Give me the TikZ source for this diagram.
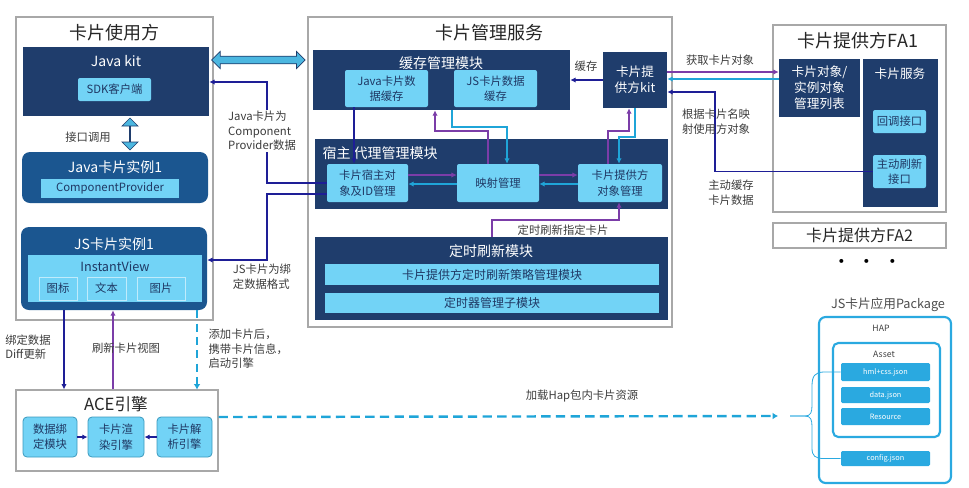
\documentclass[tikz,border=0pt]{standalone}
\usepackage{fontspec}
\setmainfont{Noto Sans CJK SC}
\usepackage{xcolor}
\usetikzlibrary{positioning}
\usetikzlibrary{fit}
\usetikzlibrary{shapes.arrows}
\usetikzlibrary{arrows.meta}

\definecolor{navy}{HTML}{1F3D6C}
\definecolor{instblue}{HTML}{1B5690}
\definecolor{sky}{HTML}{72D3F6}
\definecolor{skytext}{HTML}{1F3864}
\definecolor{purp}{HTML}{7B3DA8}
\definecolor{cyanl}{HTML}{1FA5D8}
\definecolor{deepblue}{HTML}{1E1E96}
\definecolor{framegray}{HTML}{A8A8A8}
\definecolor{pkgblue}{HTML}{2AA9E0}
\definecolor{lbltext}{HTML}{3C3C3C}

\tikzset{
	frame/.style={draw=framegray, line width=0.8pt, inner sep=0pt},
	navybox/.style={fill=navy, inner sep=0pt},
	instbox/.style={fill=instblue, rounded corners=6pt, inner sep=0pt},
	skybox/.style={fill=sky, inner sep=0pt, rounded corners=1.5pt},
	cellbox/.style={skybox, draw=white!55!sky, line width=0.6pt, rounded corners=0pt},
	acebox/.style={skybox, draw=cyanl!70!gray, line width=0.6pt, rounded corners=3pt},
	pkgitem/.style={fill=pkgblue, inner sep=0pt, rounded corners=1pt},
	pkgframe/.style={draw=pkgblue, line width=1.6pt, rounded corners=5pt, inner sep=0pt},
	skytxt/.style={inner sep=0pt, text=skytext, align=center, font=\fontsize{8.5}{11.5}\selectfont},
	navytxt/.style={inner sep=0pt, text=white, align=center, font=\fontsize{9.5}{12}\selectfont},
	pkgtxt/.style={inner sep=0pt, text=white, font=\fontsize{5.5}{6}\selectfont},
	ttl/.style={inner sep=1pt, text=black!85, font=\fontsize{13.5}{15}\selectfont},
	mtitle/.style={inner sep=1pt, text=white, font=\fontsize{10.5}{12}\selectfont},
	lbl/.style={inner sep=1pt, text=lbltext, align=left, font=\fontsize{8.5}{11}\selectfont},
	dblarrow/.style={double arrow, draw=navy, fill=cyanl!80!white, line width=0.5pt, inner xsep=0pt, inner ysep=2.6pt, minimum width=12pt, double arrow head extend=3.5pt},
	deep/.style={draw=deepblue, line width=1.3pt, -{Latex[length=4pt,width=4pt]}},
	pline/.style={draw=purp, line width=1.3pt, -{Latex[length=4pt,width=4pt]}},
	cline/.style={draw=cyanl, line width=1.3pt, -{Latex[length=4pt,width=4pt]}},
	cdash/.style={draw=cyanl, line width=1.8pt, dash pattern=on 7pt off 4pt, -{Latex[length=4pt,width=5pt]}},
}

\begin{document}
\begin{tikzpicture}[x=0.75pt, y=-0.75pt]
	\useasboundingbox (0,0) rectangle (969,487);
	
	% card user
	\node[frame, fit={(16,17) (213,320)}] (user) {};
	\node[ttl] (user-t) at (114,33) {卡片使用方};
	\node[navybox, fit={(23,47) (209,116)}] (javakit) {};
	\node[mtitle] (javakit-t) at (116,61) {Java kit};
	\node[skybox, fit={(78,78) (151,101)}, label={[skytxt]center:SDK客户端}] (sdk) {};
	\node[instbox, fit={(22,152) (208,203)}] (javainst) {};
	\node[mtitle] (javainst-t) at (115,167) {Java卡片实例1};
	\node[skybox, rounded corners=0pt, fit={(41,179) (179,198)}, label={[skytxt]center:ComponentProvider}] (compprov) {};
	\node[instbox, fit={(21,227) (207,310)}] (jsinst) {};
	\node[mtitle] (jsinst-t) at (114,244) {JS卡片实例1};
	\node[skybox, rounded corners=0pt, fit={(28,255) (202,302)}] (instview) {};
	\node[inner sep=1pt, text=skytext, font=\fontsize{9.5}{11}\selectfont] (instview-t) at (115,267) {InstantView};
	\node[cellbox, fit={(39,277) (77,300)}, label={[skytxt]center:图标}] (icon) {};
	\node[cellbox, fit={(87,277) (126,300)}, label={[skytxt]center:文本}] (txt) {};
	\node[cellbox, fit={(137,277) (185,300)}, label={[skytxt]center:图片}] (pic) {};
	
	\path (javakit.south -| 130,0) -- (javainst.north -| 130,0) node[midway, dblarrow, shape border rotate=90, minimum height=24pt] (callarrow) {};
	\node[lbl] (call-l) at (88,137) {接口调用};
	
	% ACE engine
	\node[frame, fit={(16,390) (218,471)}] (ace) {};
	\node[ttl, font=\fontsize{12.5}{14}\selectfont] (ace-t) at (116,404) {ACE引擎};
	\node[acebox, fit={(23,417) (77,457)}, label={[skytxt]center:数据绑\\定模块}] (bind) {};
	\node[acebox, fit={(88,417) (144,457)}, label={[skytxt]center:卡片渲\\染引擎}] (render) {};
	\node[acebox, fit={(157,417) (212,457)}, label={[skytxt]center:卡片解\\析引擎}] (parse) {};
	\draw[deep] (bind) -- (render);
	\draw[deep] (parse) -- (render);
	
	% card management service
	\node[frame, fit={(308,17) (672,327)}] (mgmt) {};
	\node[ttl] (mgmt-t) at (489,33) {卡片管理服务};
	\node[navybox, fit={(313,50) (570,110)}] (cachemod) {};
	\node[mtitle] (cachemod-t) at (441,63) {缓存管理模块};
	\node[skybox, fit={(345,70) (428,107)}, label={[skytxt]center:Java卡片数\\据缓存}] (javacache) {};
	\node[skybox, fit={(454,70) (537,107)}, label={[skytxt]center:JS卡片数据\\缓存}] (jscache) {};
	\node[navybox, fit={(603,52) (667,108)}, label={[navytxt]center:卡片提\\供方kit}] (kit) {};
	\node[navybox, fit={(315,139) (668,209)}] (hostmod) {};
	\node[mtitle, anchor=west] (hostmod-t) at (321,153) {宿主 代理管理模块};
	\node[skybox, fit={(327,164) (408,202)}, label={[skytxt]center:卡片宿主对\\象及ID管理}] (hostobj) {};
	\node[skybox, fit={(457,164) (539,202)}, label={[skytxt]center:映射管理}] (mapping) {};
	\node[skybox, fit={(578,164) (662,202)}, label={[skytxt]center:卡片提供方\\对象管理}] (provobj) {};
	\node[navybox, fit={(315,237) (668,320)}] (timermod) {};
	\node[mtitle] (timermod-t) at (491,251) {定时刷新模块};
	\node[skybox, rounded corners=0pt, fit={(325,264) (659,285)}, label={[skytxt, font=\fontsize{9}{11}\selectfont]center:卡片提供方定时刷新策略管理模块}] (policy) {};
	\node[skybox, rounded corners=0pt, fit={(325,293) (659,313)}, label={[skytxt, font=\fontsize{9}{11}\selectfont]center:定时器管理子模块}] (timer) {};
	
	\path (javakit.east |- 0,60) -- (mgmt.west |- 0,60) node[midway, dblarrow, minimum height=70pt] (kitarrow) {};
	
	% inside management
	\draw[deep] (kit.west |- 0,80) -- (cachemod.east |- 0,80);
	\node[lbl] (cache-l) at (586,66) {缓存};
	\draw[deep] (javacache.south -| 354,0) -- (hostobj.north -| 354,0);
	\draw[pline] (mapping.north -| 488,0) -- (488,131) -- (435,131) -- (cachemod.south -| 435,0);
	\draw[cline] (cachemod.south -| 452,0) -- (452,127) -- (507,127) -- (mapping.north -| 507,0);
	\draw[pline] (provobj.north -| 608,0) -- (608,131) -- (629,131) -- (kit.south -| 629,0);
	\draw[cline] (kit.south -| 635,0) -- (635,137) -- (619,137) -- (provobj.north -| 619,0);
	\draw[pline] (hostobj.east |- 0,175) -- (mapping.west |- 0,175);
	\draw[cline] (mapping.west |- 0,184) -- (hostobj.east |- 0,184);
	\draw[pline] (mapping.east |- 0,175) -- (provobj.west |- 0,175);
	\draw[cline] (provobj.west |- 0,184) -- (mapping.east |- 0,184);
	\draw[pline] (timermod.north -| 492,0) -- (492,220) -- (619,220) -- (provobj.south -| 619,0);
	\node[lbl] (timer-l) at (563,230) {定时刷新指定卡片};
	
	% host module to user side
	\draw[deep] (hostobj.west |- 0,183) -- (267,183) -- (267,82) -- (javakit.east |- 0,82);
	\node[lbl, fill=white] (javadata-l) at (262,131) {Java卡片为\\Component\\Provider数据};
	\draw[deep] (hostobj.west |- 0,194) -- (267,194) -- (267,260) -- (jsinst.east |- 0,260);
	\node[lbl] (jsdata-l) at (262,277) {JS卡片为绑\\定数据格式};
	
	% JS instance and ACE
	\draw[deep] (jsinst.south -| 64,0) -- (ace.north -| 64,0);
	\node[lbl] (diff-l) at (28,347) {绑定数据\\Diff更新};
	\draw[pline] (ace.north -| 113,0) -- (jsinst.south -| 113,0);
	\node[lbl] (view-l) at (126,348) {刷新卡片视图};
	\draw[cdash, dash pattern=on 6pt off 4pt] (jsinst.south -| 197,0) -- (ace.north -| 197,0);
	\node[lbl, anchor=west] (start-l) at (207,349) {添加卡片后，\\携带卡片信息，\\启动引擎};
	
	% provider FA1
	\node[frame, fit={(773,25) (946,212)}] (fa1) {};
	\node[ttl] (fa1-t) at (858,41) {卡片提供方FA1};
	\node[navybox, fit={(779,59) (860,117)}, label={[navytxt]center:卡片对象/\\实例对象\\管理列表}] (objlist) {};
	\node[navybox, fit={(863,59) (938,207)}] (cardsvc) {};
	\node[mtitle, font=\fontsize{9.5}{11}\selectfont] (cardsvc-t) at (900,74) {卡片服务};
	\node[skybox, fit={(873,110) (926,133)}, label={[skytxt]center:回调接口}] (callback) {};
	\node[skybox, fit={(873,155) (926,188)}, label={[skytxt]center:主动刷新\\接口}] (refresh) {};
	\node[frame, fit={(773,223) (946,248)}] (fa2) {};
	\node[ttl, font=\fontsize{12}{14}\selectfont] (fa2-t) at (fa2) {卡片提供方FA2};
	\node[inner sep=0pt, font=\fontsize{14}{14}\selectfont] (more) at (867,264) {•\hspace{5pt}•\hspace{5pt}•};
	
	\draw[pline] (kit.east |- 0,72) -- (objlist.west |- 0,72);
	\node[lbl] (get-l) at (720,60) {获取卡片对象};
	\draw[cline] (objlist.west |- 0,79) -- (kit.east |- 0,79);
	\draw[deep] (refresh.west) -- (715,171.5) -- (715,92) -- (kit.east |- 0,92);
	\node[lbl] (map-l) at (716,122) {根据卡片名映\\射使用方对象};
	\node[lbl] (active-l) at (731,193) {主动缓存\\卡片数据};
	
	% JS package
	\node[inner sep=1pt, text=black!70, font=\fontsize{9.5}{11}\selectfont] (pkg-t) at (888,305) {JS卡片应用Package};
	\node[pkgframe, fit={(819,317) (951,483)}] (hap) {};
	\node[inner sep=1pt, text=black!75, font=\fontsize{6.5}{8}\selectfont] (hap-t) at (881,328) {HAP};
	\node[pkgframe, rounded corners=4pt, fit={(833,343) (940,437)}] (asset) {};
	\node[inner sep=1pt, text=black!75, font=\fontsize{6.5}{8}\selectfont] (asset-t) at (884,354) {Asset};
	\node[pkgitem, fit={(841,363) (930,381)}, label={[pkgtxt]center:hml+css.json}] (hml) {};
	\node[pkgitem, fit={(841,387) (930,403)}, label={[pkgtxt]center:data.json}] (datajson) {};
	\node[pkgitem, fit={(841,408) (930,425)}, label={[pkgtxt]center:Resource}] (res) {};
	\node[pkgitem, fit={(841,451) (930,466)}, label={[pkgtxt]center:config.json}] (config) {};
	
	\coordinate (bracetip) at (790,416);
	\coordinate (loadend) at (778,416);
	\draw[cdash] (ace.east |- 0,417) -- (loadend);
	\node[lbl] (load-l) at (582,396) {加载Hap包内卡片资源};
	\draw[pkgblue, line width=0.6pt] (bracetip) -- (805,416) .. controls (811,416) and (812,412) .. (812,405) -- (812,386) .. controls (812,376) and (815,372) .. (824,372) -- (hml.west);
	\draw[pkgblue, line width=0.6pt] (bracetip) -- (805,416) .. controls (811,416) and (812,420) .. (812,427) -- (812,448) .. controls (812,456) and (815,458.5) .. (824,458.5) -- (config.west);
\end{tikzpicture}
\end{document}
